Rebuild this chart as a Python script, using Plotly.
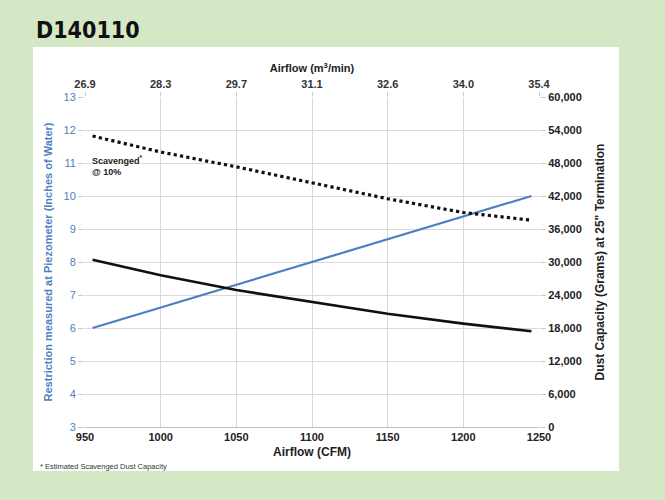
import plotly.graph_objects as go

# Data
airflow_cfm = [955, 1000, 1050, 1100, 1150, 1200, 1245]
restriction_in_h2o = [6.0, 6.62, 7.31, 7.99, 8.68, 9.38, 10.0]
dust_capacity_g = [30400, 27600, 24900, 22800, 20600, 18800, 17400]
scavenged_capacity_g = [52900, 50000, 47300, 44400, 41500, 39000, 37600]

bottom_ticks = [950, 1000, 1050, 1100, 1150, 1200, 1250]
top_tick_labels = ["26.9", "28.3", "29.7", "31.1", "32.6", "34.0", "35.4"]

FONT = "Liberation Sans"
BLUE = "#4f7fc0"
GRID = "#d9d9d9"

fig = go.Figure()

fig.add_trace(go.Scatter(x=airflow_cfm, y=restriction_in_h2o, mode="lines",
                         line=dict(color=BLUE, width=2.2), yaxis="y", xaxis="x",
                         showlegend=False, hoverinfo="skip"))
fig.add_trace(go.Scatter(x=airflow_cfm, y=dust_capacity_g, mode="lines",
                         line=dict(color="#111111", width=2.6), yaxis="y2", xaxis="x",
                         showlegend=False, hoverinfo="skip"))
fig.add_trace(go.Scatter(x=airflow_cfm, y=scavenged_capacity_g, mode="lines",
                         line=dict(color="#111111", width=3.2, dash="dot"), yaxis="y2", xaxis="x",
                         showlegend=False, hoverinfo="skip"))
# invisible trace to activate the top axis
fig.add_trace(go.Scatter(x=[bottom_ticks[0], bottom_ticks[-1]], y=[None, None], xaxis="x2", yaxis="y",
                         mode="lines", showlegend=False, hoverinfo="skip"))

L, R, T, B = 85, 126, 97, 73
W, H = 665, 500
pw, ph = W - L - R, H - T - B

def px2paper_x(px):
    return (px - L) / pw

def px2paper_y(py):
    return (H - B - py) / ph

fig.update_layout(
    width=W, height=H,
    margin=dict(l=L, r=R, t=T, b=B),
    paper_bgcolor="#d5e8c6",
    plot_bgcolor="white",
    font=dict(family=FONT, size=11, color="#222222"),
    xaxis=dict(range=[950, 1250], tickvals=bottom_ticks, showgrid=True, gridcolor=GRID,
               gridwidth=1, zeroline=False, showline=True, linecolor="#bfbfbf",
               ticks="", tickfont=dict(family=FONT, size=11, color="#222222", weight="bold"),
               title=dict(text="<b>Airflow (CFM)</b>", font=dict(size=12, color="#222222"), standoff=5)),
    xaxis2=dict(range=[950, 1250], overlaying="x", side="top", tickvals=bottom_ticks,
                ticktext=top_tick_labels, showgrid=False, zeroline=False, ticks="outside",
                ticklen=4, tickcolor="#cccccc",
                tickfont=dict(family=FONT, size=11, color="#333333", weight="bold"),
                title=dict(text="<b>Airflow (m<sup>3</sup>/min)</b>", font=dict(size=11, color="#222222"), standoff=2)),
    yaxis=dict(range=[3, 13], dtick=1, showgrid=True, gridcolor=GRID, gridwidth=1,
               zeroline=False, showline=False, ticks="outside", ticklen=6, tickcolor="#cccccc",
               tickfont=dict(family=FONT, size=11, color=BLUE),
               title=dict(text="Restriction measured at Piezometer (Inches of Water)",
                          font=dict(family=FONT, size=11, color=BLUE, weight="bold"), standoff=8)),
    yaxis2=dict(range=[0, 60000], dtick=6000, overlaying="y", side="right", showgrid=False,
                zeroline=False, showline=False, ticks="outside", ticklen=6, tickcolor="#cccccc",
                tickformat=",", tickfont=dict(family=FONT, size=11, color="#222222", weight="bold"),
                title=dict(text="Dust Capacity (Grams) at 25\" Termination",
                           font=dict(family=FONT, size=12, color="#222222", weight="bold"), standoff=14)),
    shapes=[dict(type="rect", xref="paper", yref="paper", layer="below",
                 x0=px2paper_x(33), x1=px2paper_x(619), y0=px2paper_y(471), y1=px2paper_y(47),
                 fillcolor="white", line=dict(width=0))],
    annotations=[
        dict(text="<b>D140110</b>", xref="paper", yref="paper", x=px2paper_x(34), y=px2paper_y(30),
             xanchor="left", yanchor="middle", showarrow=False,
             font=dict(family="DejaVu Sans Condensed", size=23, color="#111111")),
        dict(text="<b>Scavenged<sup>*</sup><br>@ 10%</b>", xref="paper", yref="paper",
             x=px2paper_x(90), y=px2paper_y(165), xanchor="left", yanchor="middle", align="left",
             showarrow=False, font=dict(family=FONT, size=9, color="#222222")),
        dict(text="* Estimated Scavenged Dust Capacity", xref="paper", yref="paper",
             x=px2paper_x(38), y=px2paper_y(466), xanchor="left", yanchor="middle",
             showarrow=False, font=dict(family=FONT, size=7.5, color="#333333")),
    ],
)

fig.write_html("out.html", config={"displayModeBar": False},
               post_script="document.body.style.margin='0';document.body.style.padding='0';")
